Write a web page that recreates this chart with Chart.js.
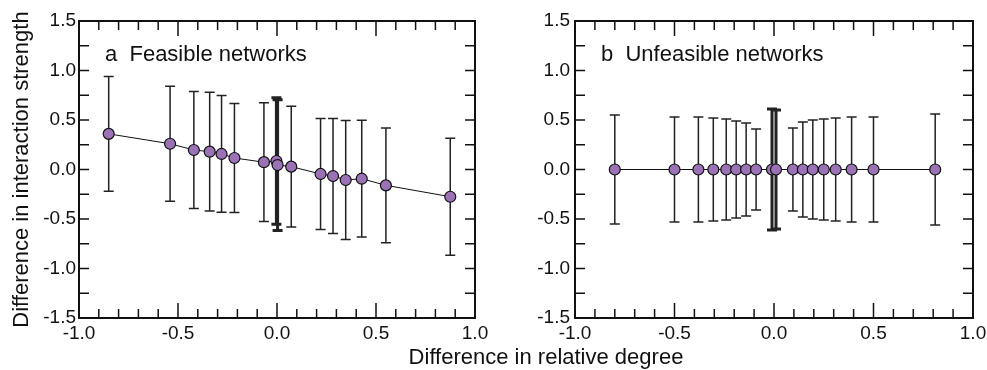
<!DOCTYPE html>
<html>
<head>
<meta charset="utf-8">
<script src="https://cdn.jsdelivr.net/npm/chart.js@4"></script>
<style>
  html, body { margin: 0; padding: 0; background: #fff; overflow: hidden; }
  #wrap { position: relative; width: 987px; height: 370px; }
  .panel { position: absolute; top: 0; }
  #xtitle {
    position: absolute; left: 346px; width: 400px; top: 344px;
    text-align: center; line-height: 26px; color: #111;
    font: 22px "Liberation Sans", Arial, sans-serif;
  }
</style>
</head>
<body>
<div id="wrap">
  <canvas id="chartA" class="panel" width="500" height="370" style="left:0"></canvas>
  <canvas id="chartB" class="panel" width="500" height="370" style="left:500px"></canvas>
  <div id="xtitle">Difference in relative degree</div>
</div>
<script>
// panel a - feasible networks
const feasX = [-0.85, -0.54, -0.42, -0.34, -0.28, -0.215, -0.066, -0.003, 0.003, 0.072, 0.22, 0.283, 0.347, 0.428, 0.55, 0.875];
const feasY = [0.36, 0.26, 0.197, 0.18, 0.157, 0.116, 0.074, 0.086, 0.045, 0.029, -0.045, -0.066, -0.106, -0.093, -0.16, -0.275];
const feasErr = [0.58, 0.58, 0.59, 0.60, 0.59, 0.55, 0.60, 0.64, 0.66, 0.61, 0.56, 0.58, 0.60, 0.59, 0.58, 0.59];

// panel b - unfeasible networks
const unfeasX = [-0.80, -0.50, -0.38, -0.305, -0.24, -0.19, -0.14, -0.09, -0.01, 0.01, 0.095, 0.145, 0.195, 0.25, 0.31, 0.39, 0.50, 0.81];
const unfeasY = [0, 0, 0, 0, 0, 0, 0, 0, 0, 0, 0, 0, 0, 0, 0, 0, 0, 0];
const unfeasErr = [0.55, 0.53, 0.53, 0.52, 0.51, 0.49, 0.47, 0.41, 0.61, 0.60, 0.42, 0.48, 0.50, 0.51, 0.52, 0.53, 0.53, 0.56];

const xTicks = [-1.0, -0.5, 0.0, 0.5, 1.0];
const yTicks = [-1.5, -1.0, -0.5, 0.0, 0.5, 1.0, 1.5];

const FONT = '"Liberation Sans", Arial, sans-serif';
Chart.defaults.font.family = FONT;
Chart.defaults.color = '#111';

const errorBars = {
  id: 'errorBars',
  beforeDatasetsDraw(chart, args, opts) {
    const ctx = chart.ctx;
    const xs = chart.scales.x, ys = chart.scales.y;
    chart.data.datasets.forEach(ds => {
      if (!ds.errors) return;
      ctx.save();
      ctx.strokeStyle = opts.color;
      ds.data.forEach((p, j) => {
        const px = xs.getPixelForValue(p.x);
        const top = ys.getPixelForValue(p.y + ds.errors[j]);
        const bot = ys.getPixelForValue(p.y - ds.errors[j]);
        // the pooled bars at zero are drawn heavier, as in the figure
        ctx.lineWidth = Math.abs(p.x) < 0.02 ? opts.thick : opts.width;
        ctx.beginPath();
        ctx.moveTo(px, top); ctx.lineTo(px, bot);
        ctx.moveTo(px - opts.cap, top); ctx.lineTo(px + opts.cap, top);
        ctx.moveTo(px - opts.cap, bot); ctx.lineTo(px + opts.cap, bot);
        ctx.stroke();
      });
      ctx.restore();
    });
  }
};

// box frame, inward ticks and the panel label
const frameTicks = {
  id: 'frameTicks',
  afterDraw(chart, args, opts) {
    const ctx = chart.ctx, a = chart.chartArea;
    const xs = chart.scales.x, ys = chart.scales.y;
    ctx.save();
    ctx.strokeStyle = '#111';
    ctx.lineWidth = 1.5;
    ctx.beginPath();
    for (let k = -10; k <= 10; k++) {
      const px = xs.getPixelForValue(k / 10);
      const len = k % 5 === 0 ? 15 : 9;
      ctx.moveTo(px, a.top); ctx.lineTo(px, a.top + len);
      ctx.moveTo(px, a.bottom); ctx.lineTo(px, a.bottom - len);
    }
    for (let k = -6; k <= 6; k++) {
      const py = ys.getPixelForValue(k / 4);
      ctx.moveTo(a.left, py); ctx.lineTo(a.left + 10, py);
      ctx.moveTo(a.right, py); ctx.lineTo(a.right - 10, py);
    }
    ctx.stroke();
    ctx.lineWidth = 2;
    ctx.strokeRect(a.left, a.top, a.right - a.left, a.bottom - a.top);
    ctx.font = '22px ' + FONT;
    ctx.fillStyle = '#111';
    ctx.textBaseline = 'alphabetic';
    ctx.fillText(opts.text, a.left + 26, a.top + 40);
    ctx.restore();
  }
};

function makePanel(id, xs, ys, errs, label, yWidth, yPad, padRight, yTitle) {
  new Chart(document.getElementById(id), {
    type: 'line',
    data: {
      datasets: [{
        data: xs.map((x, i) => ({ x: x, y: ys[i] })),
        errors: errs,
        borderColor: '#111',
        borderWidth: 1,
        pointRadius: 5.5,
        pointBorderWidth: 1.2,
        pointBackgroundColor: '#9a72b5',
        pointBorderColor: '#111',
        tension: 0
      }]
    },
    options: {
      responsive: false,
      animation: false,
      devicePixelRatio: 1,
      layout: { padding: { top: 21, right: padRight, left: 0, bottom: 0 } },
      scales: {
        x: {
          type: 'linear',
          min: -1, max: 1,
          grid: { display: false, drawTicks: false },
          border: { display: false },
          afterBuildTicks: s => { s.ticks = xTicks.map(v => ({ value: v })); },
          afterFit: s => { s.height = 52; },
          ticks: {
            padding: 4,
            maxRotation: 0,
            font: { size: 19 },
            callback: v => v.toFixed(1)
          }
        },
        y: {
          min: -1.5, max: 1.5,
          grid: { display: false, drawTicks: false },
          border: { display: false },
          afterBuildTicks: s => { s.ticks = yTicks.map(v => ({ value: v })); },
          afterFit: s => { s.width = yWidth; },
          ticks: {
            padding: yPad,
            font: { size: 19 },
            callback: v => v.toFixed(1)
          },
          title: {
            display: !!yTitle,
            text: yTitle || '',
            font: { size: 22 },
            padding: { top: 9, bottom: 0 }
          }
        }
      },
      plugins: {
        legend: { display: false },
        tooltip: { enabled: false },
        errorBars: { color: '#222', width: 1.5, thick: 3, cap: 5 },
        frameTicks: { text: label }
      }
    },
    plugins: [errorBars, frameTicks]
  });
}

makePanel('chartA', feasX, feasY, feasErr, 'a  Feasible networks', 79, 3, 25, 'Difference in interaction strength');
makePanel('chartB', unfeasX, unfeasY, unfeasErr, 'b  Unfeasible networks', 75, 5, 27, null);
</script>
</body>
</html>
